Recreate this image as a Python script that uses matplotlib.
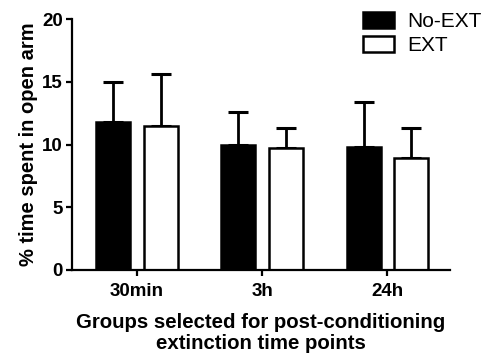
import numpy as np
import matplotlib.pyplot as plt

plt.rcParams['font.family'] = ['Liberation Sans', 'DejaVu Sans']

groups = ['30min', '3h', '24h']
no_ext = [11.8, 10.0, 9.8]
no_ext_err = [3.2, 2.6, 3.6]
ext = [11.5, 9.7, 8.9]
ext_err = [4.1, 1.6, 2.4]

fig = plt.figure(figsize=(4.85, 3.6), dpi=100)
ax = fig.add_axes([0.148, 0.25, 0.78, 0.697])

x = np.arange(len(groups))
w = 0.27
off = 0.19
lw = 1.8

ax.bar(x - off, no_ext, w, color='black', edgecolor='black', linewidth=lw,
       label='No-EXT', zorder=2)
ax.bar(x + off, ext, w, color='white', edgecolor='black', linewidth=lw,
       label='EXT', zorder=2)
ax.errorbar(x - off, no_ext, yerr=[np.zeros(3), no_ext_err], fmt='none',
            ecolor='black', elinewidth=2, capsize=7, capthick=2.2, zorder=1)
ax.errorbar(x + off, ext, yerr=[np.zeros(3), ext_err], fmt='none',
            ecolor='black', elinewidth=2, capsize=7, capthick=2.2, zorder=1)

ax.set_xlim(-0.52, 2.5)
ax.set_ylim(0, 20)
ax.set_yticks([0, 5, 10, 15, 20])
ax.set_xticks(x)
ax.set_xticklabels(groups)
for s in ['top', 'right']:
    ax.spines[s].set_visible(False)
for s in ['left', 'bottom']:
    ax.spines[s].set_linewidth(1.6)
ax.tick_params(width=1.6, length=4.5, labelsize=13.5, pad=2)
ax.tick_params(axis='x', pad=5)
for t in ax.get_xticklabels() + ax.get_yticklabels():
    t.set_fontweight('bold')

ax.set_ylabel('% time spent in open arm', fontsize=14.5, fontweight='bold',
              labelpad=3)
ax.set_xlabel('Groups selected for post-conditioning\nextinction time points',
              fontsize=14.7, fontweight='bold', linespacing=1.15, labelpad=9)

ax.legend(loc='upper left', bbox_to_anchor=(0.77, 1.028), frameon=False,
          fontsize=15, handlelength=1.5, handleheight=0.78, labelspacing=0.25,
          handletextpad=0.6, borderpad=0, borderaxespad=0)

fig.savefig('out.png', dpi=100)
